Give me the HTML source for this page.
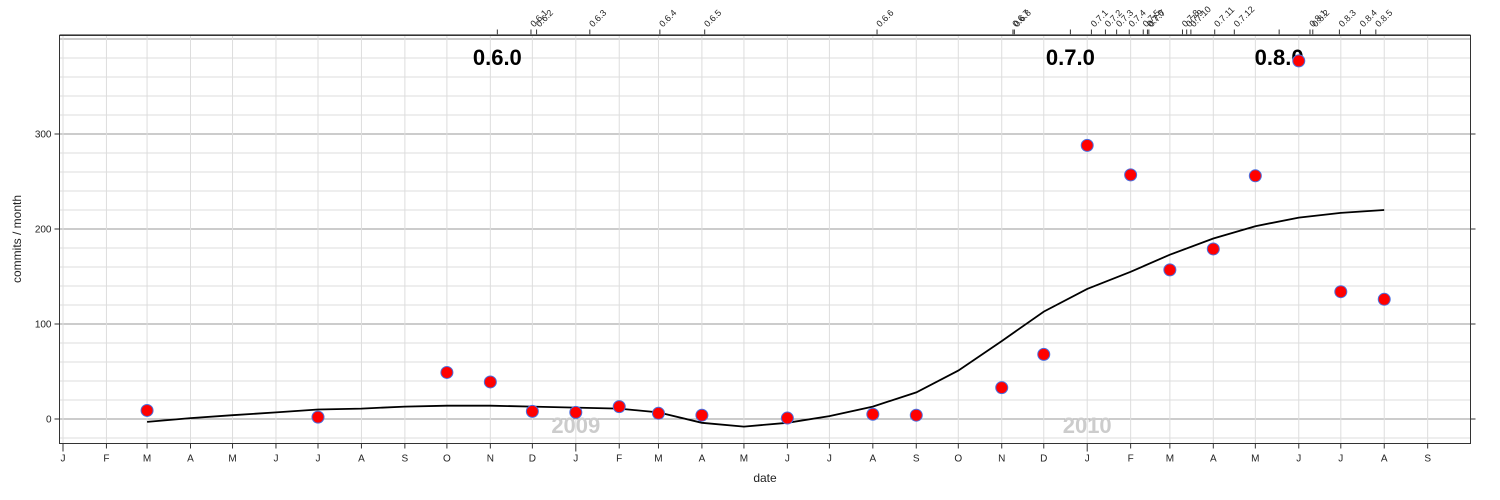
<!DOCTYPE html>
<html><head><meta charset="utf-8"><style>
body{margin:0;background:#fff}
svg{display:block;font-family:"Liberation Sans",sans-serif}
</style></head><body>
<svg id="c" width="1500" height="500"></svg>
<script>
const months = ["2008-03","2008-07","2008-10","2008-11","2008-12","2009-01","2009-02","2009-03","2009-04","2009-06","2009-08","2009-09","2009-11","2009-12","2010-01","2010-02","2010-03","2010-04","2010-05","2010-06","2010-07","2010-08"];
const commits = [9,2,49,39,8,7,13,6,4,1,5,4,33,68,288,257,157,179,256,377,134,126];
const smoothMonths = ["2008-03","2008-04","2008-05","2008-06","2008-07","2008-08","2008-09","2008-10","2008-11","2008-12","2009-01","2009-02","2009-03","2009-04","2009-05","2009-06","2009-07","2009-08","2009-09","2009-10","2009-11","2009-12","2010-01","2010-02","2010-03","2010-04","2010-05","2010-06","2010-07","2010-08"];
const smoothVals = [-3,1,4,7,10,11,13,14,14,13,12,11,7,-4,-8,-4,3,13,28,51,82,113,137,155,173,190,203,212,217,220];
const releaseNames = ["0.6.1","0.6.2","0.6.3","0.6.4","0.6.5","0.6.6","0.6.7","0.6.8","0.7.1","0.7.2","0.7.3","0.7.4","0.7.5","0.7.6","0.7.7","0.7.8","0.7.9","0.7.10","0.7.11","0.7.12","0.8.1","0.8.2","0.8.3","0.8.4","0.8.5"];
const releaseDates = ["2008-11-30","2008-12-04","2009-01-11","2009-03-02","2009-04-03","2009-08-04","2009-11-09","2009-11-10","2010-01-04","2010-01-14","2010-01-22","2010-01-31","2010-02-10","2010-02-13","2010-02-14","2010-03-10","2010-03-13","2010-03-16","2010-04-02","2010-04-16","2010-06-09","2010-06-11","2010-06-30","2010-07-15","2010-07-26"];
const majorNames = ["0.6.0","0.7.0","0.8.0"];
const majorDates = ["2008-11-06","2009-12-20","2010-05-18"];
const yTicks = [0,100,200,300];
const monthLetters = ["J","F","M","A","M","J","J","A","S","O","N","D"];

const svg=document.getElementById('c');
const NS="http://www.w3.org/2000/svg";
const T0=Date.UTC(2008,0,1);
function X(d){const p=d.split('-').map(Number);const t=Date.UTC(p[0],p[1]-1,p[2]||1);return 63+(t-T0)/86400000*1.4011;}
function Y(v){return 419-v*0.95;}
function el(tag,attrs,txt){const e=document.createElementNS(NS,tag);for(const k in attrs)e.setAttribute(k,attrs[k]);if(txt!==undefined)e.textContent=txt;svg.appendChild(e);return e;}
const L=59.5,R=1470.5,TOP=35.5,B=443.5;

// grid
for(let v=-20;v<=400;v+=20){const y=Y(v);if(y<TOP||y>B)continue;
 const g=el('line',{x1:L,x2:R,y1:y,y2:y,stroke:v%100===0?'#999':'#ddd','stroke-width':1});
 }
const mdates=[];
for(let y=2008;y<=2010;y++)for(let m=1;m<=12;m++){if(y===2010&&m>9)break;mdates.push([y,m]);}
mdates.forEach(([y,m])=>{const x=X(y+'-'+String(m).padStart(2,'0'));
 const g=el('line',{x1:x,x2:x,y1:TOP,y2:B,stroke:'#ddd'});
 
 const t=el('line',{x1:x,x2:x,y1:B,y2:B+(m===1?8:5),stroke:'#333'});
 
 const lb=el('text',{x:x,y:B+18,'font-size':10,'text-anchor':'middle',fill:'#222'},monthLetters[m-1]);
 });

// year labels
[["2009","2009-01"],["2010","2010-01"]].forEach(([t,d])=>{const e=el('text',{x:X(d),y:433,'font-size':22,'font-weight':'bold','text-anchor':'middle',fill:'#ccc'},t);
 });

// frame
const fr=el('rect',{x:L,y:TOP,width:R-L,height:B-TOP,fill:'none',stroke:'#333'});

el('line',{x1:L,x2:R,y1:TOP-1,y2:TOP-1,stroke:'#888'});

// y ticks
yTicks.forEach(v=>{const y=Y(v);
 el('line',{x1:L-5,x2:L,y1:y,y2:y,stroke:'#333'});
 el('line',{x1:R,x2:R+5,y1:y,y2:y,stroke:'#333'});
 const t=el('text',{x:L-8,y:y+3.5,'font-size':10,'text-anchor':'end',fill:'#222'},String(v));
 });

// releases
releaseNames.forEach((n,i)=>{const x=X(releaseDates[i]);
 el('line',{x1:x,x2:x,y1:TOP-1,y2:TOP-6,stroke:'#333'});
 const t=el('text',{x:0,y:0,'font-size':9,fill:'#222',transform:`translate(${x+3},${TOP-8}) rotate(-45)`},n);
 });
majorNames.forEach((n,i)=>{const x=X(majorDates[i]);
 el('line',{x1:x,x2:x,y1:TOP-1,y2:TOP-6,stroke:'#333'});
 const t=el('text',{x:x,y:65,'font-size':22,'font-weight':'bold','text-anchor':'middle',fill:'#000'},n);
 });

// smooth line
const pts=smoothMonths.map((m,i)=>X(m).toFixed(1)+','+Y(smoothVals[i]).toFixed(1)).join(' ');
const pl=el('polyline',{points:pts,fill:'none',stroke:'#000','stroke-width':1.8});


// points
months.forEach((m,i)=>{const c=el('circle',{cx:X(m),cy:Y(commits[i]),r:6,fill:'#f00',stroke:'#4a6fe0','stroke-width':1});
 });

// axis titles
const xt=el('text',{x:765,y:482,'font-size':12,'text-anchor':'middle',fill:'#222'},'date');

const yt=el('text',{x:0,y:0,'font-size':12,'text-anchor':'middle',fill:'#222',transform:'translate(21,239) rotate(-90)'},'commits / month');

</script>
</body></html>
